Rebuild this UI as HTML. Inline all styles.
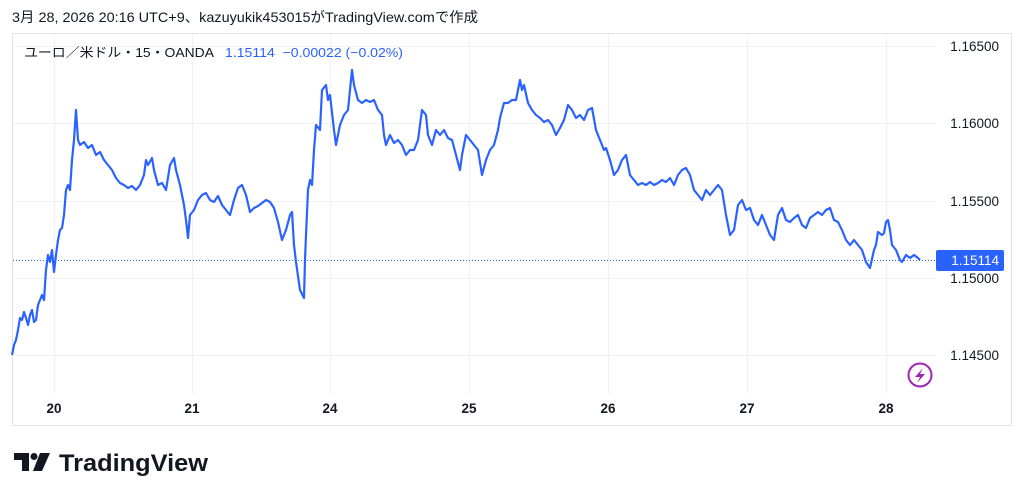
<!DOCTYPE html>
<html><head><meta charset="utf-8"><style>
body{margin:0;background:#fff;width:1024px;height:499px;overflow:hidden;font-family:"Liberation Sans","Noto Sans CJK JP",sans-serif;}
</style></head><body>
<svg width="1024" height="499" xmlns="http://www.w3.org/2000/svg" style="position:absolute;left:0;top:0">
<text x="12" y="22" font-size="14" fill="#131722" textLength="466" lengthAdjust="spacingAndGlyphs" font-family="Liberation Sans, Noto Sans CJK JP, sans-serif">3月 28, 2026 20:16 UTC+9、kazuyukik453015がTradingView.comで作成</text>
<rect x="12.5" y="33.5" width="999" height="392" fill="none" stroke="#e0e3eb"/>
<g stroke="#f0f1f4" stroke-width="1">
<line x1="13" x2="936" y1="46.5" y2="46.5"/><line x1="13" x2="936" y1="123.5" y2="123.5"/><line x1="13" x2="936" y1="201.5" y2="201.5"/><line x1="13" x2="936" y1="278.5" y2="278.5"/><line x1="13" x2="936" y1="355.5" y2="355.5"/>
<line x1="54.5" x2="54.5" y1="34" y2="394"/><line x1="192.5" x2="192.5" y1="34" y2="394"/><line x1="330.5" x2="330.5" y1="34" y2="394"/><line x1="469.5" x2="469.5" y1="34" y2="394"/><line x1="608.5" x2="608.5" y1="34" y2="394"/><line x1="747.5" x2="747.5" y1="34" y2="394"/><line x1="886.5" x2="886.5" y1="34" y2="394"/>
</g>
<text x="24" y="57" font-size="13" fill="#131722" textLength="190" lengthAdjust="spacingAndGlyphs" font-family="Liberation Sans, Noto Sans CJK JP, sans-serif">ユーロ／米ドル・15・OANDA</text>
<text x="225" y="57" font-size="13" fill="#2962ff" textLength="178" lengthAdjust="spacingAndGlyphs" xml:space="preserve">1.15114  −0.00022 (−0.02%)</text>
<line x1="13" x2="936" y1="260.5" y2="260.5" stroke="#2962ff" stroke-dasharray="1,2" stroke-width="1"/>
<polyline fill="none" stroke="#2962ff" stroke-width="2.2" stroke-linejoin="round" points="12,355 14,345 16,340 18,330 20,318 22,320 24,312 26,318 28,325 30,315 32,310 34,322 36,320 38,305 40,300 42,295 44,300 46,270 48,255 50,262 52,250 54,272 56,255 58,240 60,230 62,228 64,215 66,190 68,185 70,190 72,160 74,140 76,110 78,140 80,145 84,142 88,148 92,145 96,155 100,152 104,160 108,165 112,170 116,178 120,183 124,185 128,188 132,186 136,190 140,185 144,175 146,160 148,165 152,158 154,170 158,185 162,183 166,190 170,165 174,158 176,170 180,185 184,205 186,220 188,238 190,215 194,210 198,200 202,195 206,193 210,200 214,202 218,196 222,205 226,210 230,215 234,200 238,188 242,185 246,195 250,212 254,208 258,206 262,203 266,200 270,202 274,208 278,222 282,240 286,230 290,215 292,212 294,245 296,262 300,290 304,298 305,260 306,235 308,190 310,180 312,185 314,150 316,125 320,130 322,90 326,85 328,100 330,95 334,130 336,145 340,125 344,115 348,110 350,90 352,70 354,85 358,100 362,103 366,100 370,102 374,100 378,110 382,115 384,135 386,145 390,135 394,143 398,140 402,145 406,155 410,150 414,150 418,140 422,110 426,115 428,135 432,145 436,130 440,135 444,130 448,138 452,140 456,155 460,170 462,155 466,135 470,140 474,145 478,150 482,175 486,160 490,150 494,145 498,130 500,118 504,103 508,103 512,100 516,100 520,80 522,90 524,85 528,103 532,110 536,115 540,118 544,122 548,120 552,125 556,135 560,128 564,120 568,105 572,110 576,118 580,115 584,120 588,110 592,108 596,130 600,140 604,150 606,148 610,160 614,175 618,170 622,160 626,155 630,175 634,180 638,185 642,183 646,185 650,182 654,185 658,183 662,180 666,182 670,178 674,185 678,175 682,170 686,168 690,175 694,190 698,195 702,200 706,190 710,195 714,190 718,185 722,190 726,215 730,235 734,230 738,205 742,200 746,210 750,208 754,220 758,225 762,215 766,225 770,235 774,240 778,215 782,208 786,220 790,222 794,218 798,215 802,225 806,228 810,218 814,215 818,212 822,215 826,210 830,208 834,220 838,222 842,230 846,240 850,245 854,240 858,245 862,250 866,262 870,268 874,250 876,245 878,232 882,235 884,233 886,222 888,220 890,230 892,245 896,250 900,260 902,262 906,255 910,258 914,255 918,258 920,260"/>
<g font-size="13.5" fill="#131722" text-anchor="end">
<text x="999" y="51">1.16500</text><text x="999" y="128">1.16000</text><text x="999" y="206">1.15500</text><text x="999" y="283">1.15000</text><text x="999" y="360">1.14500</text>
</g>
<rect x="936" y="250" width="68" height="21" rx="2" fill="#2962ff"/>
<text x="999" y="265" font-size="13.5" fill="#fff" text-anchor="end">1.15114</text>
<circle cx="920" cy="375" r="11.5" fill="none" stroke="#9c27b0" stroke-width="2"/>
<path d="M923 368 L915 377 L920 377 L917 383 L925 374 L920 374 Z" fill="#9c27b0"/>
<g font-size="13.5" fill="#131722" text-anchor="middle" font-weight="bold">
<text x="54" y="413">20</text><text x="192" y="413">21</text><text x="330" y="413">24</text><text x="469" y="413">25</text><text x="608" y="413">26</text><text x="747" y="413">27</text><text x="886" y="413">28</text>
</g>
<g fill="#131722">
<path d="M14 453 H29 V471 H22 V460 H14 Z"/>
<circle cx="34" cy="456.5" r="3.5"/>
<path d="M40 453 H50 L42 471 H33 Z"/>
</g>
<text x="59" y="471" font-size="24" font-weight="bold" fill="#131722" textLength="149" lengthAdjust="spacingAndGlyphs">TradingView</text>
</svg>
</body></html>
